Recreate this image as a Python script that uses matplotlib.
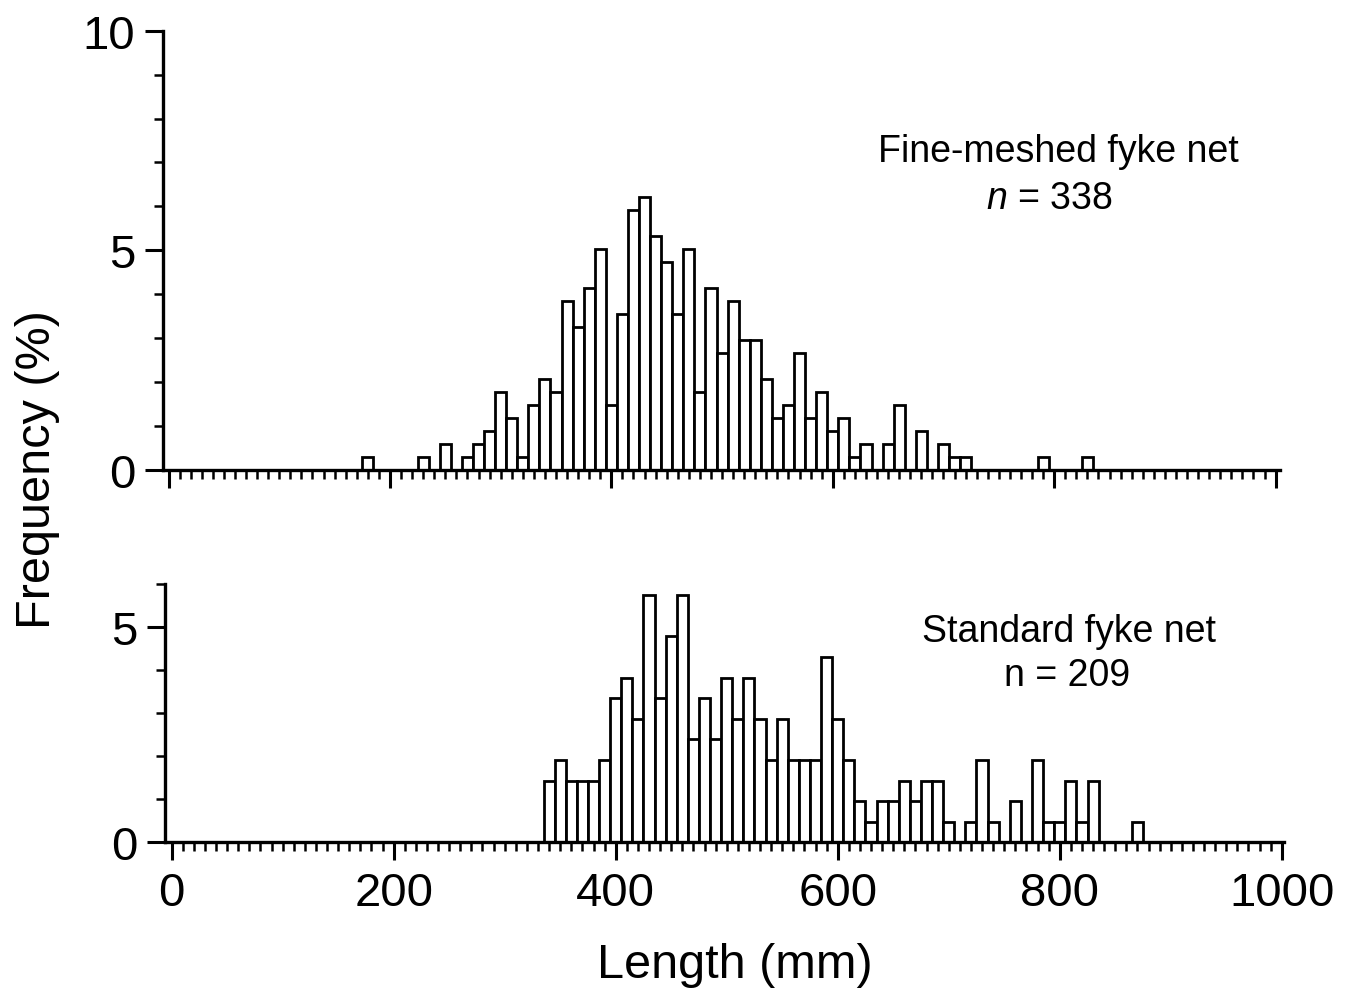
import matplotlib
matplotlib.use("Agg")
import matplotlib.pyplot as plt
from matplotlib.ticker import MultipleLocator

plt.rcParams["font.family"] = ["Liberation Sans", "DejaVu Sans"]
plt.rcParams["mathtext.fontset"] = "custom"
plt.rcParams["mathtext.it"] = "Liberation Sans:italic"
plt.rcParams["mathtext.rm"] = "Liberation Sans"

# length classes (mm, bin centres) and number of fish in each
FINE_N = 338
fine_length = [180, 230, 250, 270, 280, 290, 300, 310, 320, 330, 340, 350,
               360, 370, 380, 390, 400, 410, 420, 430, 440, 450, 460, 470,
               480, 490, 500, 510, 520, 530, 540, 550, 560, 570, 580, 590,
               600, 610, 620, 630, 650, 660, 680, 700, 710, 720, 790, 830]
fine_count = [1, 1, 2, 1, 2, 3, 6, 4, 1, 5, 7, 6,
              13, 11, 14, 17, 5, 12, 20, 21, 18, 16, 12, 17,
              6, 14, 9, 13, 10, 10, 7, 4, 5, 9, 4, 6,
              3, 4, 1, 2, 2, 5, 3, 2, 1, 1, 1, 1]

STD_N = 209
std_length = [340, 350, 360, 370, 380, 390, 400, 410, 420, 430, 440, 450,
              460, 470, 480, 490, 500, 510, 520, 530, 540, 550, 560, 570,
              580, 590, 600, 610, 620, 630, 640, 650, 660, 670, 680, 690,
              700, 720, 730, 740, 760, 780, 790, 800, 810, 820, 830, 870]
std_count = [3, 4, 3, 3, 3, 4, 7, 8, 6, 12, 7, 10,
             12, 5, 7, 5, 8, 6, 8, 6, 4, 6, 4, 4,
             4, 9, 6, 4, 2, 1, 2, 2, 3, 2, 3, 3,
             1, 1, 4, 1, 2, 4, 1, 1, 3, 1, 3, 1]

x_ticks = [0, 200, 400, 600, 800, 1000]

W, H = 1347, 995
fig = plt.figure(figsize=(W / 100, H / 100), dpi=100)
ax_top = fig.add_axes([163 / W, 1 - 470.7 / H, (1280 - 163) / W, (470.7 - 31.7) / H])
ax_bot = fig.add_axes([165 / W, 1 - 843.3 / H, (1284 - 165) / W, (843.3 - 585) / H])


def style(ax, ymax, ymajor):
    ax.set_ylim(0, ymax)
    ax.spines[["top", "right"]].set_visible(False)
    for s in ("left", "bottom"):
        ax.spines[s].set_linewidth(2.4)
    ax.set_xticks(x_ticks)
    ax.xaxis.set_minor_locator(MultipleLocator(10))
    ax.set_yticks(ymajor)
    ax.yaxis.set_minor_locator(MultipleLocator(1))
    ax.tick_params(which="major", length=13, width=2.2, labelsize=34, pad=7)
    ax.tick_params(which="minor", length=6.5, width=1.8)
    ax.tick_params(axis="x", which="major", pad=8)


pct_fine = [c / FINE_N * 100 for c in fine_count]
ax_top.bar(fine_length, pct_fine, width=10, color="white", edgecolor="black",
           linewidth=2.0, zorder=2)
ax_top.set_xlim(-5, 1004)
style(ax_top, 10, [0, 5, 10])
ax_top.tick_params(axis="x", labelbottom=False)
ax_top.text(804, 7.25, "Fine-meshed fyke net", ha="center", va="center", fontsize=27)
ax_top.text(796, 6.2, r"$\it{n}$ = 338", ha="center", va="center", fontsize=27)

pct_std = [c / STD_N * 100 for c in std_count]
ax_bot.bar(std_length, pct_std, width=10, color="white", edgecolor="black",
           linewidth=2.0, zorder=2)
ax_bot.set_xlim(-6, 1002)
style(ax_bot, 6, [0, 5])
ax_bot.text(808, 4.9, "Standard fyke net", ha="center", va="center", fontsize=27)
ax_bot.text(807, 3.88, "n = 209", ha="center", va="center", fontsize=27)

fig.text(38 / W, 1 - 470 / H, "Frequency (%)", rotation=90, ha="center", va="center", fontsize=35)
fig.text(735 / W, 1 - 966 / H, "Length (mm)", ha="center", va="center", fontsize=35)

fig.savefig("out.png", dpi=100)
